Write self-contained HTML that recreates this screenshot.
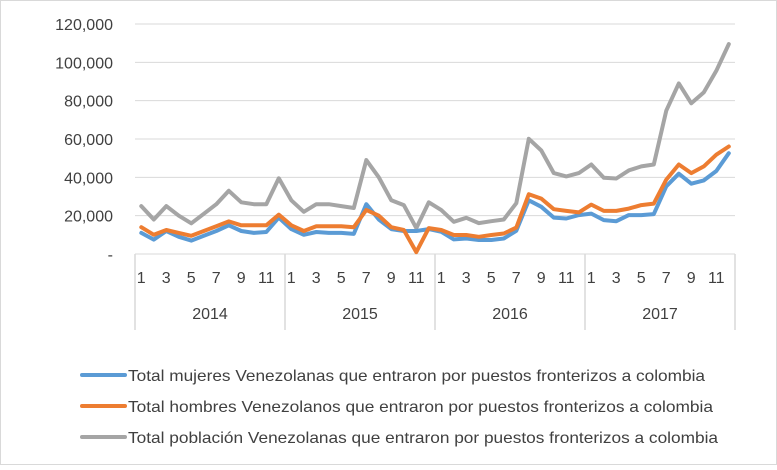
<!DOCTYPE html>
<html><head><meta charset="utf-8">
<style>
body{margin:0;background:#fff;font-family:"Liberation Sans",sans-serif;}
#wrap{position:relative;width:777px;height:465px;}
</style></head><body>
<div id="wrap">
<svg id="svg" width="777" height="465" xmlns="http://www.w3.org/2000/svg">
<rect x="0.5" y="0.5" width="776" height="464" fill="#fff" stroke="#d9d9d9"/>
<g id="grid"></g><g id="axes"></g><g id="series"></g><g id="legend"></g>
</svg>
</div>
<script>
const years = ["2014","2015","2016","2017"];
const monthTicks = ["1","3","5","7","9","11"];
const yTicks = [0,20000,40000,60000,80000,100000,120000];
const mujeres = [11000,7500,12000,9000,7000,9500,12000,15000,12000,11000,11500,19000,
13000,10000,11500,11000,11000,10500,26000,18000,13000,12000,12000,13000,
11600,7600,8100,7300,7300,8100,12100,28000,24600,19000,18500,20300,
21100,17700,17100,20300,20300,20800,35300,41900,36700,38400,43300,52600];
const hombres = [14000,10000,12500,11000,9500,12000,14500,17000,15000,15000,15000,20500,
15000,12000,14500,14500,14500,14000,23000,20000,14000,12500,1000,13500,
12500,9900,9900,9000,9900,10700,13800,31200,28900,23400,22500,21700,
25800,22500,22500,23700,25500,26300,38800,46700,42200,45700,51800,56100];
const total = [25000,18000,25000,20000,16000,21000,26000,33000,27000,26000,26000,39500,
28000,22000,26000,26000,25000,24000,49000,40000,28000,25500,13500,27000,
22900,16800,18900,16100,17100,18000,26500,60100,54000,42200,40500,42200,
46700,39800,39400,43600,45700,46700,74800,89000,78600,84300,95600,109500];
const seriesNames = ["Total mujeres Venezolanas que entraron por puestos fronterizos a colombia",
"Total hombres Venezolanos que entraron por puestos fronterizos a colombia",
"Total población Venezolanas que entraron por puestos fronterizos a colombia"];
const NS="http://www.w3.org/2000/svg";
const X0=135,X1=735,Y0=254,YTOP=24,YMAX=120000;
function xs(i){return X0+(i+0.5)*(X1-X0)/48;}
function ys(v){return Y0-(v/YMAX)*(Y0-YTOP);}
function mk(tag,attrs,parent,txt){const e=document.createElementNS(NS,tag);for(const k in attrs)e.setAttribute(k,attrs[k]);if(txt!==undefined)e.textContent=txt;document.getElementById(parent).appendChild(e);return e;}
yTicks.forEach(v=>{
  const y=ys(v);
  const l=mk('line',{x1:X0,x2:X1,y1:y,y2:y,stroke:'#d9d9d9','stroke-width':1},'grid');
  
  
  const t=mk('text',{x:X0-22,y:y+6,'text-anchor':'end','font-size':16,fill:'#404040'},'axes',v===0?'-':v.toLocaleString('en-US'));
  
  
});
for(let k=0;k<=4;k++){
  const x=X0+k*150;
  const l=mk('line',{x1:x,x2:x,y1:Y0,y2:330,stroke:'#d9d9d9','stroke-width':1.5},'axes');
  
  
}
years.forEach((yr,k)=>{
  monthTicks.forEach(m=>{
    const i=k*12+(+m)-1;
    const t=mk('text',{x:xs(i),y:283,'text-anchor':'middle','font-size':16,fill:'#404040'},'axes',m);
    
    
  });
  const t=mk('text',{x:X0+k*150+75,y:319,'text-anchor':'middle','font-size':16,fill:'#404040'},'axes',yr);
  
  
});
const colors=['#5b9bd5','#ed7d31','#a5a5a5'];
const data=[mujeres,hombres,total];
[2,0,1].forEach(s=>{
  const pts=data[s].map((v,i)=>xs(i).toFixed(1)+','+ys(v).toFixed(1)).join(' ');
  const p=mk('polyline',{points:pts,fill:'none',stroke:colors[s],'stroke-width':4,'stroke-linejoin':'round','stroke-linecap':'round'},'series');
  
  
});
const legendLens=[577,585,590];
seriesNames.forEach((n,s)=>{
  const y=375+s*31;
  const l=mk('line',{x1:82,x2:125,y1:y,y2:y,stroke:colors[s],'stroke-width':4,'stroke-linecap':'round'},'legend');
  
  
  const t=mk('text',{x:128,y:y+6,'font-size':16,fill:'#404040',textLength:legendLens[s],lengthAdjust:'spacingAndGlyphs'},'legend',n);
  
  
});
</script>
</body></html>
